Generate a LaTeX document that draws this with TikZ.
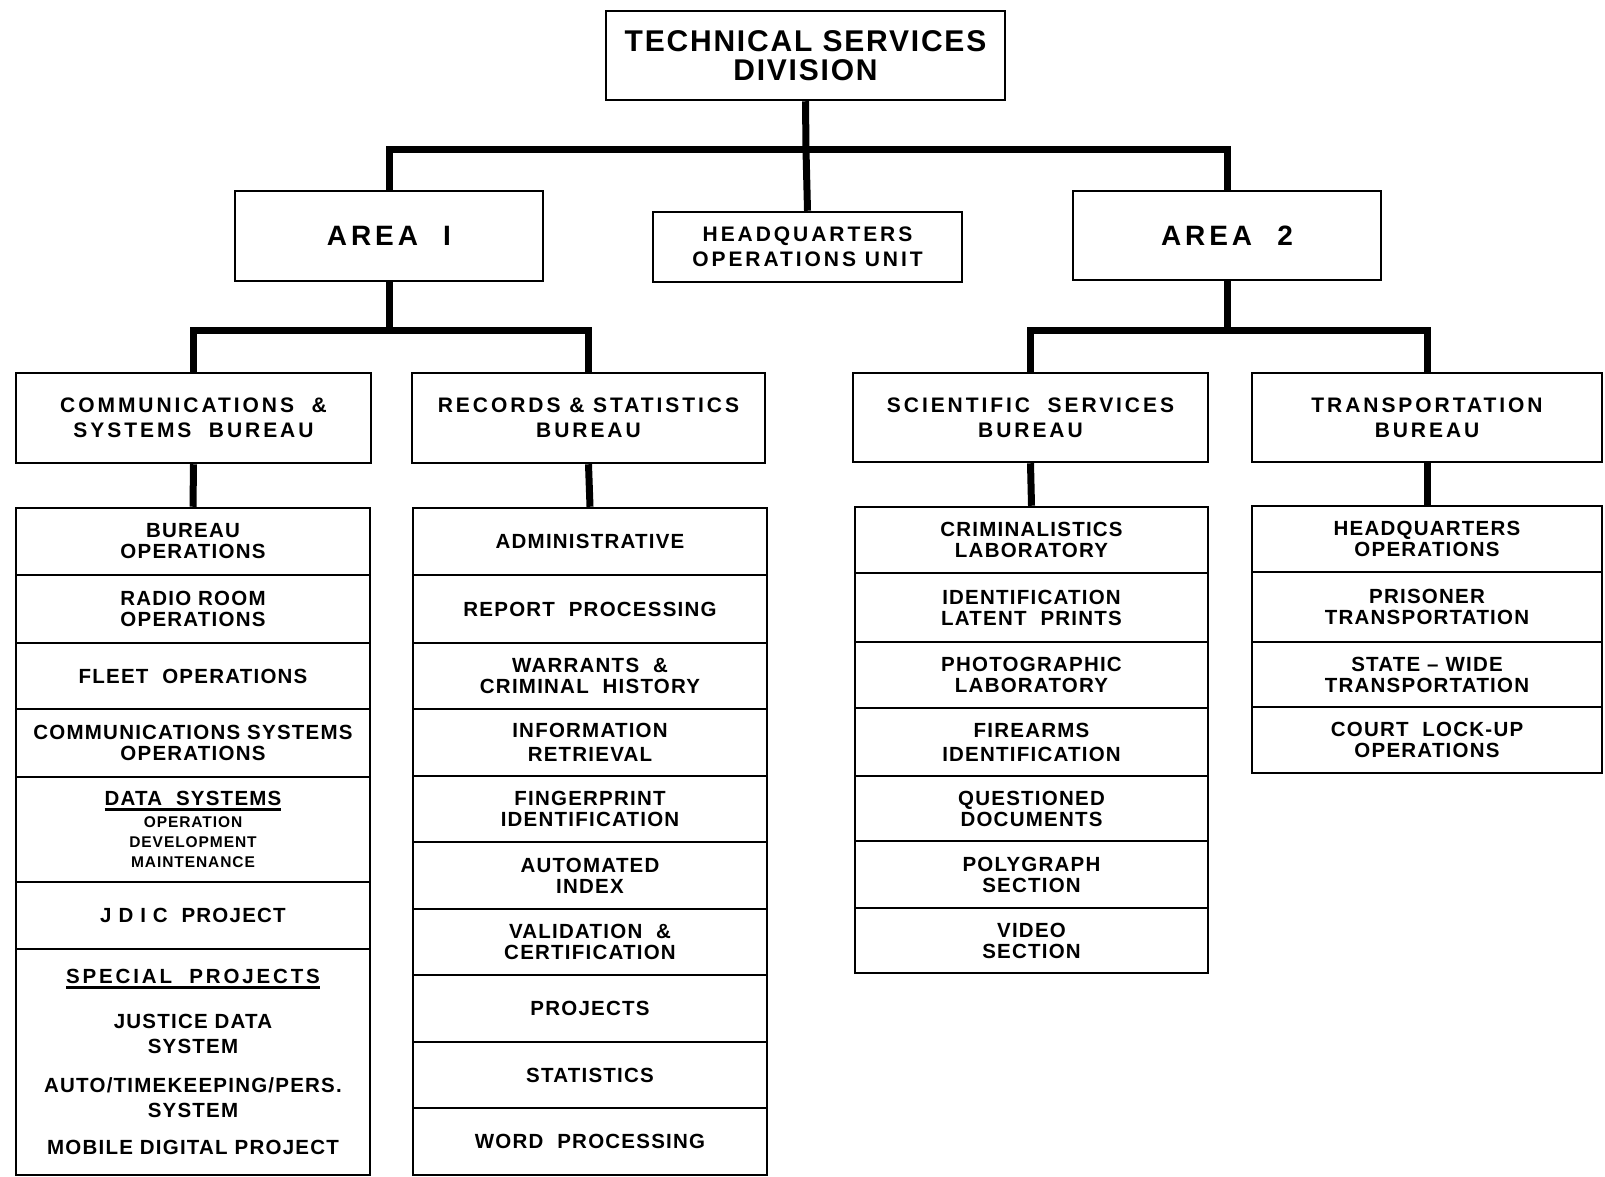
\documentclass[tikz,border=0pt]{standalone}
\usepackage{fontspec}
\setmainfont{Liberation Sans}[LetterSpace=6]
\newfontfamily\widefont{Liberation Sans}[LetterSpace=14]
\usetikzlibrary{calc}
\newcommand\fsz[2]{\fontsize{#1}{#2}\selectfont}
\newsavebox\ulsave
\newcommand\ulbox[1]{\sbox\ulsave{#1}\leavevmode\rlap{\rule[-5pt]{\wd\ulsave}{2.2pt}}\usebox\ulsave}
\tikzset{
  boxline/.style={draw=black, line width=2.5pt, fill=white, inner sep=0pt, align=center},
  conn/.style={draw=black, line width=7pt, line join=miter},
  titlefont/.style={font=\fsz{30}{29}\bfseries},
  areafont/.style={font=\widefont\fsz{28}{30}\bfseries},
  bureaufont/.style={font=\widefont\fsz{21}{25}\bfseries},
  listfont/.style={font=\fsz{20.5}{21}\bfseries},
  specfont/.style={font=\fsz{20.5}{25}\bfseries},
  smallfont/.style={font=\fsz{15.5}{20}\bfseries},
}
% \cellbox[style]{name}{x1}{y1}{x2}{y2}{text}
\newcommand\cellbox[7][]{\node[boxline,#1,minimum width={#5-#3},minimum height={#6-#4}] (#2) at ({(#3+#5)/2},{(#4+#6)/2}) {#7};}
\begin{document}
\begin{tikzpicture}[x=1pt,y=-1pt]
\useasboundingbox[fill=white] (0,0) rectangle (1605,1177);

% top levels
\cellbox[titlefont]{top}{606}{11}{1005}{100}{TECHNICAL SERVICES\\DIVISION}
\cellbox[areafont]{area1}{235}{191}{543}{281}{AREA\hspace{0.9em}I}
\cellbox[bureaufont]{hq}{653}{212}{962}{282}{HEADQUARTERS\\OPERATIONS UNIT}
\cellbox[areafont]{area2}{1073}{191}{1381}{280}{AREA\hspace{0.9em}2}

% bureaus
\cellbox[bureaufont]{comm}{16}{373}{371}{463}{COMMUNICATIONS \ \&\\SYSTEMS \ BUREAU}
\cellbox[bureaufont]{rec}{412}{373}{765}{463}{RECORDS \& STATISTICS\\BUREAU}
\cellbox[bureaufont]{sci}{853}{373}{1208}{462}{SCIENTIFIC \ SERVICES\\BUREAU}
\cellbox[bureaufont]{trans}{1252}{373}{1602}{462}{TRANSPORTATION\\BUREAU}

% communications list
\cellbox[listfont]{c1}{16}{508}{370}{575}{BUREAU\\OPERATIONS}
\cellbox[listfont]{c2}{16}{575}{370}{643}{RADIO ROOM\\OPERATIONS}
\cellbox[listfont]{c3}{16}{643}{370}{709}{FLEET \ OPERATIONS}
\cellbox[listfont]{c4}{16}{709}{370}{777}{COMMUNICATIONS SYSTEMS\\OPERATIONS}
\cellbox[smallfont]{c5}{16}{777}{370}{882}{\fsz{20.5}{20}\ulbox{DATA \ SYSTEMS}\\[2pt]\fsz{15.5}{20}OPERATION\\DEVELOPMENT\\MAINTENANCE}
\cellbox[listfont]{c6}{16}{882}{370}{949}{J D I C \ PROJECT}
\cellbox[specfont]{c7}{16}{949}{370}{1175}{\widefont\ulbox{SPECIAL \ PROJECTS}\\[20pt]\normalfont\bfseries JUSTICE DATA\\SYSTEM\\[14pt]AUTO/TIMEKEEPING/PERS.\\SYSTEM\\[12pt]MOBILE DIGITAL PROJECT}

% records list
\cellbox[listfont]{r1}{413}{508}{767}{575}{ADMINISTRATIVE}
\cellbox[listfont]{r2}{413}{575}{767}{643}{REPORT \ PROCESSING}
\cellbox[listfont]{r3}{413}{643}{767}{709}{WARRANTS \ \&\\CRIMINAL \ HISTORY}
\cellbox[listfont]{r4}{413}{709}{767}{776}{INFORMATION\\[3pt]RETRIEVAL}
\cellbox[listfont]{r5}{413}{776}{767}{842}{FINGERPRINT\\IDENTIFICATION}
\cellbox[listfont]{r6}{413}{842}{767}{909}{AUTOMATED\\INDEX}
\cellbox[listfont]{r7}{413}{909}{767}{975}{VALIDATION \ \&\\CERTIFICATION}
\cellbox[listfont]{r8}{413}{975}{767}{1042}{PROJECTS}
\cellbox[listfont]{r9}{413}{1042}{767}{1108}{STATISTICS}
\cellbox[listfont]{r10}{413}{1108}{767}{1175}{WORD \ PROCESSING}

% scientific list
\cellbox[listfont]{s1}{855}{507}{1208}{573}{CRIMINALISTICS\\LABORATORY}
\cellbox[listfont]{s2}{855}{573}{1208}{642}{IDENTIFICATION\\LATENT \ PRINTS}
\cellbox[listfont]{s3}{855}{642}{1208}{708}{PHOTOGRAPHIC\\LABORATORY}
\cellbox[listfont]{s4}{855}{708}{1208}{776}{FIREARMS\\[3pt]IDENTIFICATION}
\cellbox[listfont]{s5}{855}{776}{1208}{841}{QUESTIONED\\DOCUMENTS}
\cellbox[listfont]{s6}{855}{841}{1208}{908}{POLYGRAPH\\SECTION}
\cellbox[listfont]{s7}{855}{908}{1208}{973}{VIDEO\\SECTION}

% transportation list
\cellbox[listfont]{t1}{1252}{506}{1602}{572}{HEADQUARTERS\\OPERATIONS}
\cellbox[listfont]{t2}{1252}{572}{1602}{642}{PRISONER\\TRANSPORTATION}
\cellbox[listfont]{t3}{1252}{642}{1602}{707}{STATE -- WIDE\\TRANSPORTATION}
\cellbox[listfont]{t4}{1252}{707}{1602}{773}{COURT \ LOCK-UP\\OPERATIONS}

% connectors
\coordinate (j1) at (806,150);
\coordinate (j2) at (389,330);
\coordinate (j3) at (1227,330);
\draw[conn] (top.south) -- (j1);
\draw[conn] (area1.north) |- (j1) -| (area2.north);
\draw[conn] (j1) -- (hq.north);
\draw[conn] (area1.south) -- (j2);
\draw[conn] (comm.north) |- (j2) -| (rec.north);
\draw[conn] (area2.south) -- (j3);
\draw[conn] (sci.north) |- (j3) -| (trans.north);
\draw[conn] (comm.south) -- (c1.north);
\draw[conn] (rec.south) -- (r1.north);
\draw[conn] (sci.south) -- (s1.north);
\draw[conn] (trans.south) -- (t1.north);
\end{tikzpicture}
\end{document}
